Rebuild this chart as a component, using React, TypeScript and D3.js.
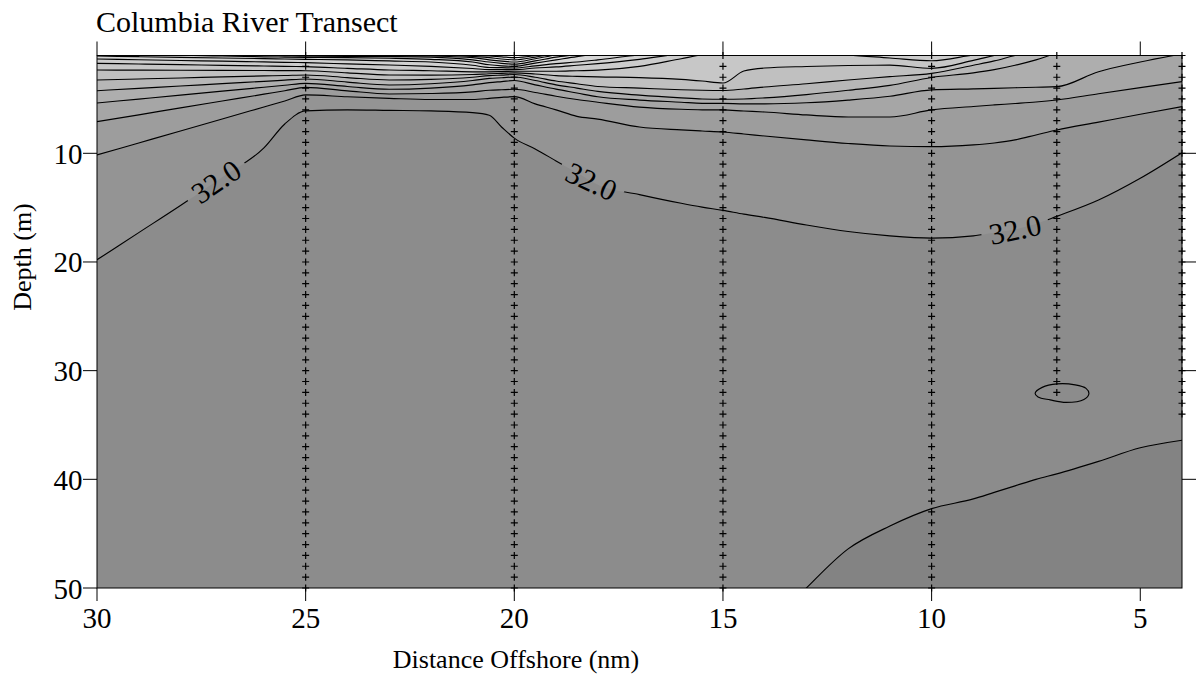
import React from "react";
import * as d3 from "d3";

// Distance offshore (nm) of the columns where isohaline depths were read
const columnDist = [30, 29, 28, 27, 26, 25.5, 25, 24, 23, 22, 21, 20.6, 20.3, 20, 19.5, 19, 18.5, 18, 17, 16, 15.5, 15, 14.5, 14, 13, 12, 11, 10, 9, 8.5, 8, 7.5, 7, 6, 5, 4];

// Contour levels (salinity), saltiest first
const salinityLevels = [32.5, 32.0, 31.5, 31.0, 30.5, 30.0, 29.5, 29.0, 28.5, 28.0, 27.5, 27.0, 26.5, 26.0, 25.5, 25.0];

// Depth (m) of each isohaline at each column (values < 1 lie above the surface)
const depth325 = [80, 78, 76, 74, 72, 71, 70, 69, 68, 67, 66, 65.5, 65, 65, 64, 63.5, 63, 62, 60, 58, 57, 56, 55, 54, 50, 46.4, 44.3, 42.7, 41.8, 41.2, 40.6, 40.0, 39.5, 38.35, 37.1, 36.4];
const depth320 = [19.8, 17.3, 14.8, 12.2, 9.5, 7.3, 6.1, 6.0, 6.05, 6.1, 6.25, 6.5, 7.6, 8.6, 9.6, 10.7, 11.8, 12.9, 13.8, 14.6, 14.95, 15.25, 15.6, 15.9, 16.6, 17.2, 17.6, 17.8, 17.6, 17.3, 17.0, 16.5, 15.8, 14.3, 12.3, 9.95];
const depth315 = [10.15, 9.05, 7.95, 6.84, 5.74, 5.19, 4.63, 4.8, 4.94, 5.05, 5.05, 4.95, 4.85, 4.79, 5.45, 6.0, 6.6, 6.85, 7.58, 7.85, 7.95, 8.04, 8.22, 8.41, 8.77, 9.1, 9.33, 9.39, 9.23, 9.05, 8.77, 8.31, 7.85, 7.13, 6.41, 5.71];
const depth310 = [7.09, 6.46, 5.82, 5.19, 4.56, 4.24, 3.93, 4.25, 4.54, 4.5, 4.35, 4.2, 4.15, 4.11, 4.4, 4.75, 5.05, 5.3, 5.75, 5.95, 6.0, 6.01, 6.11, 6.2, 6.47, 6.66, 6.66, 6.01, 5.69, 5.55, 5.42, 5.28, 5.09, 4.52, 3.96, 3.41];
const depth305 = [5.37, 5.01, 4.65, 4.28, 3.92, 3.74, 3.56, 3.85, 4.11, 4.0, 3.7, 3.5, 3.4, 3.3, 3.7, 4.1, 4.45, 4.8, 5.1, 5.3, 5.4, 5.4, 5.45, 5.45, 5.35, 5.1, 4.75, 4.17, 4.07, 4.02, 3.97, 3.92, 3.87, 2.49, 1.6, 0.85];
const depth300 = [4.24, 4.02, 3.81, 3.59, 3.38, 3.27, 3.16, 3.45, 3.71, 3.6, 3.3, 3.1, 3.05, 2.98, 3.3, 3.7, 4.0, 4.3, 4.65, 4.9, 5.0, 5.03, 5.0, 4.9, 4.6, 4.2, 3.75, 3.02, 2.6, 2.3, 1.9, 1.4, 0.8, 0.3, 0.0, -0.2];
const depth295 = [3.25, 3.16, 3.07, 2.97, 2.88, 2.84, 2.79, 3.03, 3.25, 3.2, 3.0, 2.85, 2.8, 2.75, 3.0, 3.35, 3.6, 3.85, 4.0, 4.15, 4.2, 4.22, 4.08, 3.9, 3.6, 3.25, 2.95, 2.64, 1.9, 1.5, 1.0, 0.6, 0.3, 0.2, -0.1, -0.3];
const depth290 = [2.33, 2.35, 2.36, 2.37, 2.38, 2.39, 2.4, 2.6, 2.79, 2.8, 2.75, 2.68, 2.64, 2.6, 2.7, 2.85, 2.92, 2.97, 3.03, 3.2, 3.35, 3.53, 2.43, 2.15, 2.01, 1.92, 1.89, 2.18, 1.45, 1.0, 0.6, 0.4, 0.2, 0.1, -0.2, -0.4];
const depth285 = [1.72, 1.78, 1.84, 1.91, 1.97, 2.0, 2.03, 2.18, 2.33, 2.4, 2.5, 2.5, 2.48, 2.45, 2.45, 2.45, 2.4, 2.35, 2.0, 1.3, 0.95, 0.85, 0.82, 0.8, 0.85, 0.97, 1.23, 1.48, 0.95, 0.7, 0.4, 0.3, 0.1, 0.0, -0.3, -0.5];
const depth280 = [1.32, 1.39, 1.46, 1.52, 1.59, 1.63, 1.66, 1.77, 1.87, 2.0, 2.2, 2.3, 2.3, 2.3, 2.15, 2.05, 1.9, 1.75, 1.35, 0.85, 0.7, 0.6, 0.55, 0.5, 0.5, 0.6, 0.8, 0.9, 0.6, 0.4, 0.2, 0.1, 0.0, -0.1, -0.4, -0.6];
const depth275 = [1.05, 1.11, 1.17, 1.23, 1.29, 1.32, 1.35, 1.4, 1.5, 1.6, 1.9, 2.1, 2.12, 2.15, 1.95, 1.75, 1.6, 1.4, 0.95, 0.7, 0.6, 0.5, 0.45, 0.4, 0.4, 0.5, 0.6, 0.7, 0.5, 0.3, 0.1, 0.0, -0.1, -0.2, -0.5, -0.7];
const depth270 = [0.7, 0.85, 0.97, 1.05, 1.12, 1.15, 1.18, 1.2, 1.25, 1.35, 1.6, 1.85, 1.95, 2.0, 1.7, 1.4, 1.1, 0.85, 0.5, 0.4, 0.35, 0.3, 0.3, 0.3, 0.3, 0.3, 0.3, 0.3, 0.2, 0.1, 0.0, -0.1, -0.2, -0.3, -0.6, -0.8];
const depth265 = [0.4, 0.55, 0.7, 0.85, 0.99, 1.03, 1.07, 1.08, 1.1, 1.15, 1.4, 1.6, 1.72, 1.8, 1.5, 1.15, 0.9, 0.6, 0.3, 0.2, 0.2, 0.2, 0.2, 0.2, 0.2, 0.2, 0.2, 0.2, 0.1, 0.0, -0.1, -0.2, -0.3, -0.4, -0.7, -0.9];
const depth260 = [0.2, 0.35, 0.5, 0.65, 0.8, 0.88, 0.95, 0.97, 0.99, 1.05, 1.2, 1.4, 1.52, 1.6, 1.3, 0.95, 0.7, 0.4, 0.1, 0.1, 0.1, 0.1, 0.1, 0.1, 0.1, 0.1, 0.1, 0.1, 0.0, -0.1, -0.2, -0.3, -0.4, -0.5, -0.8, -1.0];
const depth255 = [0.0, 0.15, 0.3, 0.45, 0.6, 0.72, 0.85, 0.88, 0.9, 0.98, 1.08, 1.2, 1.32, 1.4, 1.15, 0.8, 0.5, 0.2, 0, 0, 0, 0, 0, 0, 0, 0, 0, 0, -0.1, -0.2, -0.3, -0.4, -0.5, -0.6, -0.9, -1.1];
const depth250 = [-0.2, -0.05, 0.1, 0.25, 0.4, 0.55, 0.7, 0.75, 0.8, 0.85, 0.98, 1.05, 1.12, 1.2, 1.0, 0.6, 0.3, 0.0, -0.1, -0.1, -0.1, -0.1, -0.1, -0.1, -0.1, -0.1, -0.1, -0.1, -0.2, -0.3, -0.4, -0.5, -0.6, -0.7, -1.0, -1.2];

const isohalineDepths = [depth325, depth320, depth315, depth310, depth305, depth300, depth295, depth290, depth285, depth280, depth275, depth270, depth265, depth260, depth255, depth250];

// Small closed 32.0 contour near the 7 nm station
const ringDist = [7.52, 7.35, 6.99, 6.56, 6.3, 6.23, 6.35, 6.78, 7.16, 7.45];
const ringDepth = [32.08, 31.54, 31.22, 31.31, 31.63, 32.1, 32.65, 32.92, 32.69, 32.42];

// CTD stations and their deepest sample (m)
const stationDist = [25, 20, 15, 10, 7, 4];
const stationBottom = [50, 50, 50, 50, 32, 34];

const xTickValues = [30, 25, 20, 15, 10, 5];
const yTickValues = [10, 20, 30, 40, 50];
const yRightTickValues = [10, 20, 30, 40];

const labelLevel = 32.0;
const labelDist = [27.15, 18.15, 8.0];

const FONT = "'Liberation Serif', 'Times New Roman', Times, serif";

export default function App() {
  const W = 1203, H = 685;
  const left = 97, right = 1182, top = 55.5, bottom = 588;
  const x = d3.scaleLinear().domain([30, 4]).range([left, right]);
  const y = d3.scaleLinear().domain([1, 50]).range([top, bottom]);
  const shade = d3
    .scaleLinear<string>()
    .domain([24.75, 29, 32.75])
    .range(["#f0f0f0", "#c4c4c4", "#838383"])
    .clamp(true);

  const area = d3
    .area<number>()
    .x((_, i) => x(columnDist[i]))
    .y0(y(-5))
    .y1((d) => y(d))
    .curve(d3.curveMonotoneX);
  const line = d3
    .line<number>()
    .x((_, i) => x(columnDist[i]))
    .y((d) => y(d))
    .curve(d3.curveMonotoneX);
  const ringLine = d3
    .line<number>()
    .x((i) => x(ringDist[i]))
    .y((i) => y(ringDepth[i]))
    .curve(d3.curveCatmullRomClosed);

  const labelIdx = salinityLevels.indexOf(labelLevel);
  const labInterp = d3.scaleLinear().domain(columnDist).range(isohalineDepths[labelIdx]);
  const labels = labelDist.map((d) => {
    const cx = x(d), cy = y(labInterp(d));
    const ax = x(d + 0.4), ay = y(labInterp(d + 0.4));
    const bx = x(d - 0.4), by = y(labInterp(d - 0.4));
    const angle = (Math.atan2(by - ay, bx - ax) * 180) / Math.PI;
    return { cx, cy, angle };
  });

  const markerPath = stationDist
    .map((sd, si) =>
      d3
        .range(1, stationBottom[si] + 1)
        .map((dep) => {
          const px = x(sd), py = y(dep);
          return `M${px - 3.5},${py}H${px + 3.5}M${px},${py - 3.5}V${py + 3.5}`;
        })
        .join("")
    )
    .join("");

  return (
    <svg
      width={W}
      height={H}
      style={{ position: "absolute", left: 0, top: 0, background: "#fff" }}
      fontFamily={FONT}
    >
      <defs>
        <clipPath id="plotClip">
          <rect x={left} y={top} width={right - left} height={bottom - top} />
        </clipPath>
        <mask id="labelGap" maskUnits="userSpaceOnUse" x={0} y={0} width={W} height={H}>
          <rect x={0} y={0} width={W} height={H} fill="#fff" />
          {labels.map((l, i) => (
            <rect
              key={i}
              x={-34}
              y={-12}
              width={68}
              height={24}
              fill="#000"
              transform={`translate(${l.cx},${l.cy}) rotate(${l.angle})`}
            />
          ))}
        </mask>
      </defs>

      <text x={96} y={32} fontSize={30} fill="#000">
        Columbia River Transect
      </text>

      <g clipPath="url(#plotClip)">
        <rect x={left} y={top} width={right - left} height={bottom - top} fill={shade(salinityLevels[0] + 0.25)} />
        {isohalineDepths.map((depths, k) => (
          <path key={`a${k}`} d={area(depths) || ""} fill={shade(salinityLevels[k] - 0.25)} stroke="none" />
        ))}
        {isohalineDepths.map((depths, k) => (
          <path
            key={`l${k}`}
            d={line(depths) || ""}
            fill="none"
            stroke="#000"
            strokeWidth={1.15}
            mask={k === labelIdx ? "url(#labelGap)" : undefined}
          />
        ))}
        <path d={ringLine(d3.range(ringDist.length)) || ""} fill="none" stroke="#000" strokeWidth={1.15} />
      </g>

      {labels.map((l, i) => (
        <text
          key={i}
          transform={`translate(${l.cx},${l.cy}) rotate(${l.angle})`}
          textAnchor="middle"
          dominantBaseline="central"
          fontSize={30}
          fill="#000"
        >
          {labelLevel.toFixed(1)}
        </text>
      ))}

      <path d={markerPath} stroke="#000" strokeWidth={1.2} fill="none" />

      <rect x={left} y={top} width={right - left} height={bottom - top} fill="none" stroke="#000" strokeWidth={1} />

      {xTickValues.map((t) => (
        <g key={`x${t}`}>
          <line x1={x(t)} x2={x(t)} y1={bottom} y2={bottom + 13} stroke="#000" />
          <line x1={x(t)} x2={x(t)} y1={top - 14} y2={top} stroke="#000" />
          <text x={x(t)} y={628} textAnchor="middle" fontSize={29} fill="#000">
            {t}
          </text>
        </g>
      ))}
      {yTickValues.map((t) => (
        <g key={`y${t}`}>
          <line x1={left - 14} x2={left} y1={y(t)} y2={y(t)} stroke="#000" />
          <text x={82.5} y={y(t) + 10.5} textAnchor="end" fontSize={29} fill="#000">
            {t}
          </text>
        </g>
      ))}
      {yRightTickValues.map((t) => (
        <line key={`r${t}`} x1={right} x2={right + 14} y1={y(t)} y2={y(t)} stroke="#000" />
      ))}

      <text x={516} y={668} textAnchor="middle" fontSize={26} fill="#000">
        Distance Offshore (nm)
      </text>
      <text transform="translate(31,257) rotate(-90)" textAnchor="middle" fontSize={26} fill="#000">
        Depth (m)
      </text>
    </svg>
  );
}
